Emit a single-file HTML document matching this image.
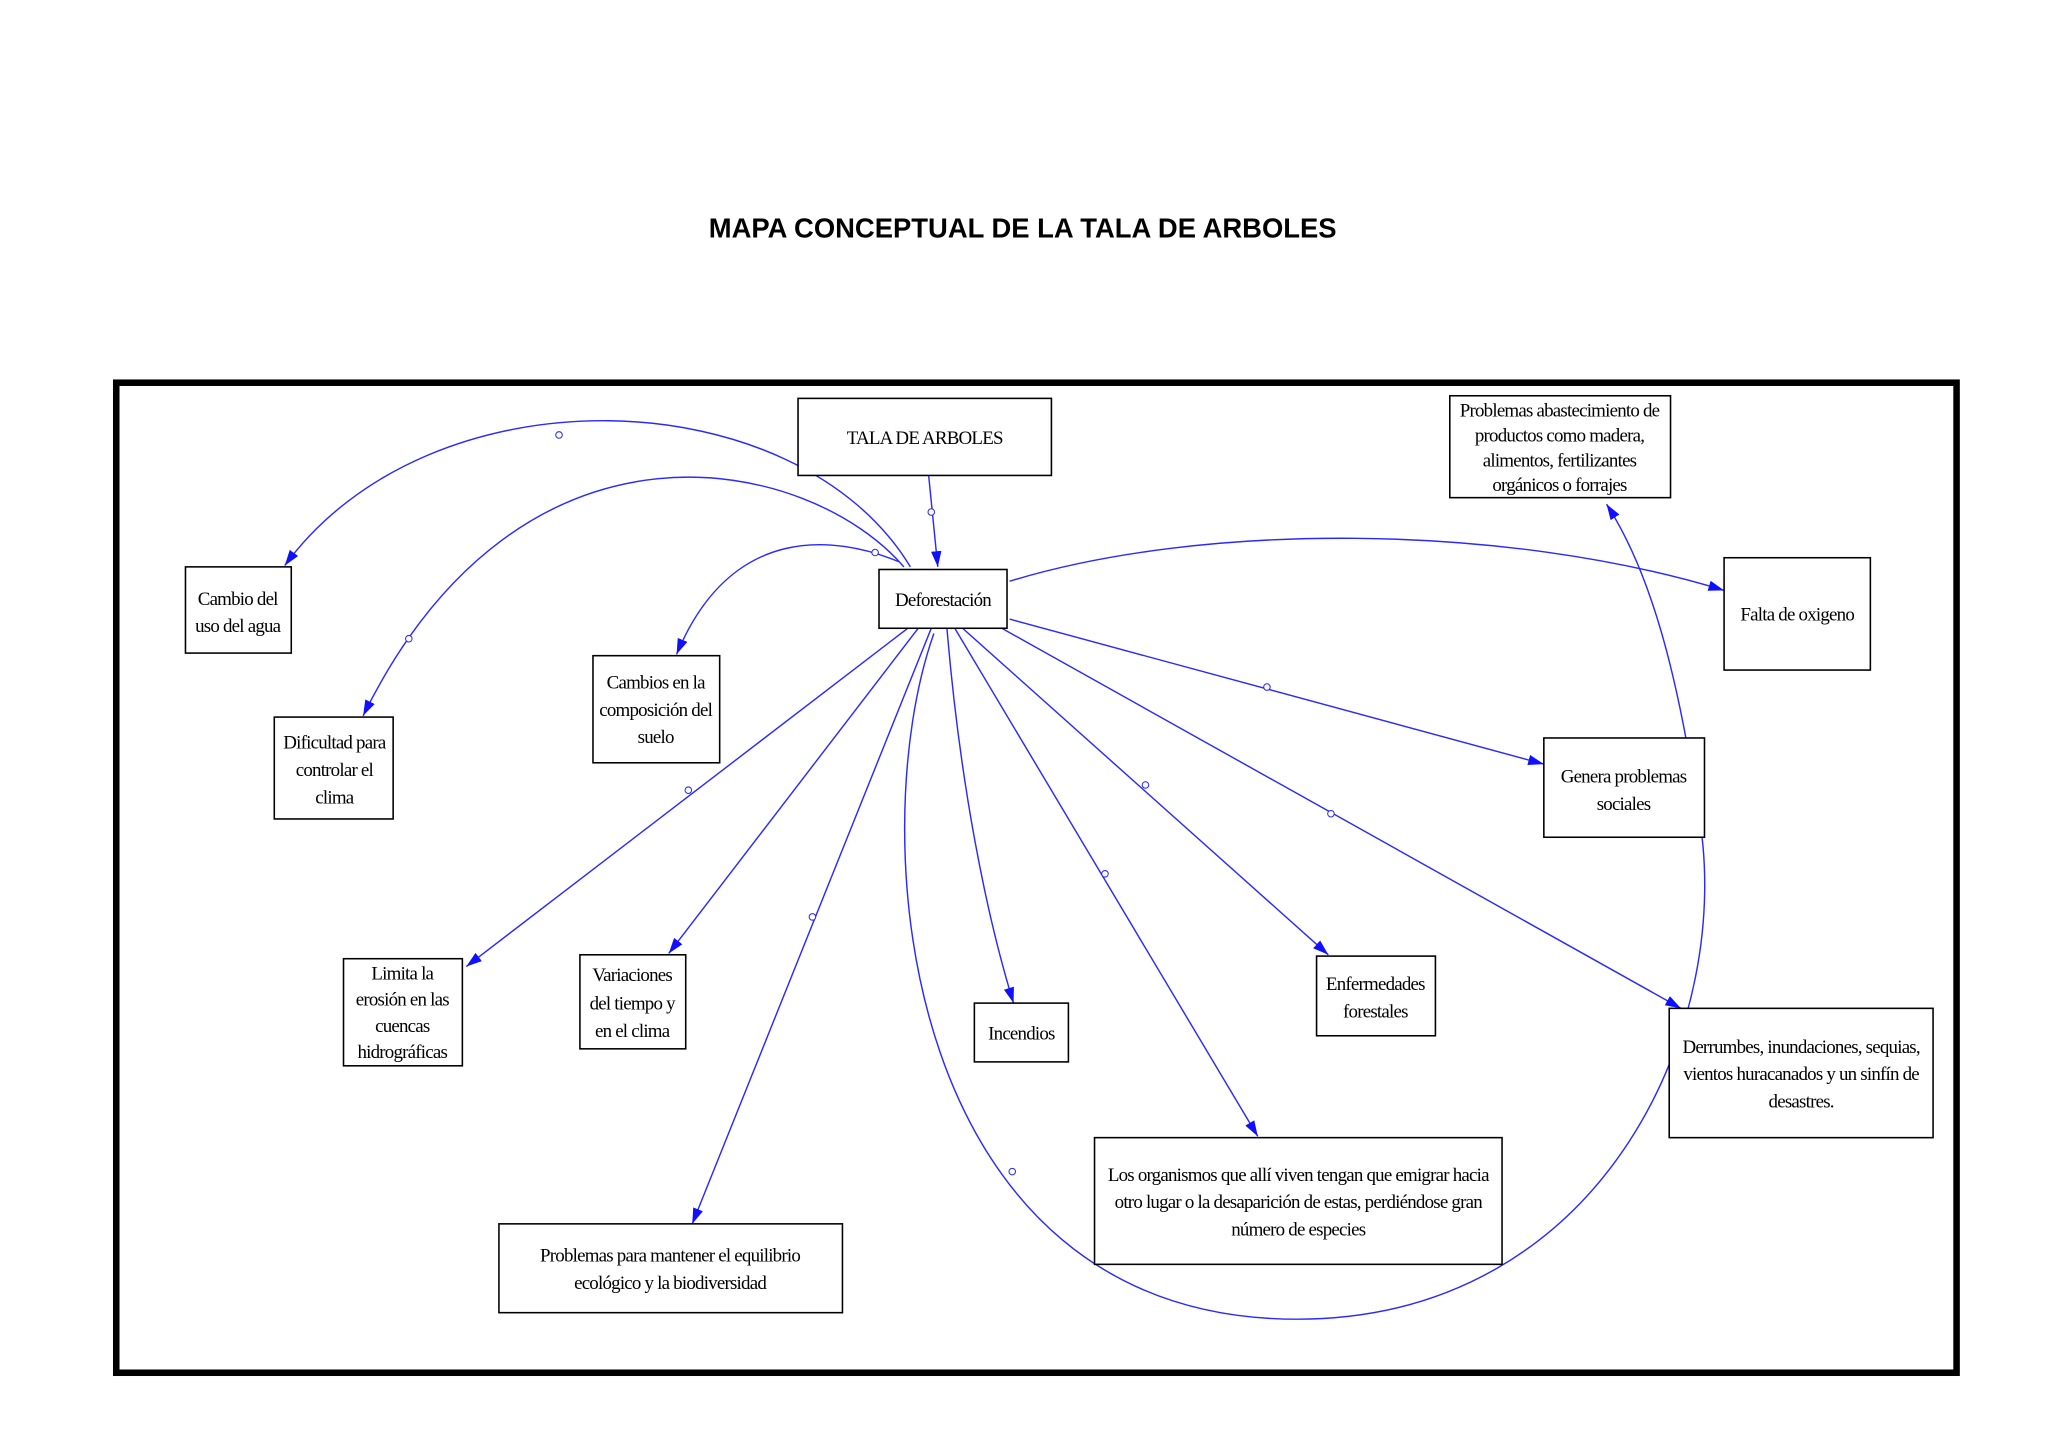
<!DOCTYPE html>
<html><head><meta charset="utf-8"><style>
html,body{margin:0;padding:0;background:#fff;}
svg{display:block;}
.b{fill:#fff;stroke:#000;stroke-width:1.2;}
.t{font-family:"Liberation Serif",serif;font-size:14.5px;text-anchor:middle;fill:#000;letter-spacing:-0.6px;}
.c{fill:none;stroke:#2a2aff;stroke-width:1.1;}
.d{fill:#fff;stroke:#2a2aff;stroke-width:0.8;}
</style></head><body>
<svg width="2048" height="1448" viewBox="0 0 1568 1108.6" xmlns="http://www.w3.org/2000/svg">
<defs>
<marker id="a" viewBox="0 0 12 8" refX="12" refY="4" markerWidth="12" markerHeight="8" markerUnits="userSpaceOnUse" orient="auto">
<path d="M0,0 L12,4 L0,8 z" fill="#1010ff"/></marker>
</defs>
<text x="783" y="182" font-family="'Liberation Sans',sans-serif" font-weight="bold" font-size="21" text-anchor="middle">MAPA CONCEPTUAL DE LA TALA DE ARBOLES</text>
<rect x="89" y="293" width="1409" height="758" fill="#fff" stroke="#000" stroke-width="5"/>

<!-- connectors -->
<path class="c" d="M711,364 L718,434" marker-end="url(#a)"/>
<path class="c" d="M697,434 C610,290 330,280 218,433" marker-end="url(#a)"/>
<path class="c" d="M692,434 C620,350 400,300 278,548" marker-end="url(#a)"/>
<path class="c" d="M688,430 C640,410 560,400 518,501" marker-end="url(#a)"/>
<path class="c" d="M773,445 C920,400 1150,400 1320,452" marker-end="url(#a)"/>
<path class="c" d="M773,474 L1182,585" marker-end="url(#a)"/>
<path class="c" d="M767,481 L1287,772" marker-end="url(#a)"/>
<path class="c" d="M737,481 L1017,731" marker-end="url(#a)"/>
<path class="c" d="M731,481 L963,870" marker-end="url(#a)"/>
<path class="c" d="M725,481 C735,600 755,700 776,768" marker-end="url(#a)"/>
<path class="c" d="M713,481 L530,937" marker-end="url(#a)"/>
<path class="c" d="M703,481 L512,730" marker-end="url(#a)"/>
<path class="c" d="M695,481 L357,740" marker-end="url(#a)"/>
<path class="c" d="M715,485 C660,640 690,1010 993,1010 C1230,1010 1330,780 1300,620 C1285,520 1265,440 1230,386" marker-end="url(#a)"/>

<!-- diamonds -->
<g>
<circle class="d" cx="428" cy="333" r="2.5"/><circle class="d" cx="313" cy="489" r="2.5"/>
<circle class="d" cx="670" cy="423" r="2.5"/><circle class="d" cx="713" cy="392" r="2.5"/>
<circle class="d" cx="970" cy="526" r="2.5"/><circle class="d" cx="1019" cy="623" r="2.5"/>
<circle class="d" cx="877" cy="601" r="2.5"/><circle class="d" cx="846" cy="669" r="2.5"/>
<circle class="d" cx="622" cy="702" r="2.5"/><circle class="d" cx="527" cy="605" r="2.5"/>
<circle class="d" cx="775" cy="897" r="2.5"/><circle class="d" cx="757" cy="449" r="2.5"/>
<circle class="d" cx="703" cy="478" r="2.5"/><circle class="d" cx="724" cy="478" r="2.5"/>
</g>

<!-- boxes -->
<rect class="b" x="611" y="305" width="194" height="59"/>
<text class="t" x="708" y="340" font-size="16">TALA DE ARBOLES</text>
<rect class="b" x="673" y="436" width="98" height="45"/>
<text class="t" x="722" y="464" font-size="15.5">Deforestación</text>
<rect class="b" x="142" y="434" width="81" height="66"/>
<text class="t" x="182" y="463">Cambio del</text><text class="t" x="182" y="484">uso del agua</text>
<rect class="b" x="210" y="549" width="91" height="78"/>
<text class="t" x="256" y="573">Dificultad para</text><text class="t" x="256" y="594">controlar el</text><text class="t" x="256" y="615">clima</text>
<rect class="b" x="454" y="502" width="97" height="82"/>
<text class="t" x="502" y="527">Cambios en la</text><text class="t" x="502" y="548">composición del</text><text class="t" x="502" y="569">suelo</text>
<rect class="b" x="1110" y="303" width="169" height="78"/>
<text class="t" x="1194" y="319">Problemas abastecimiento de</text><text class="t" x="1194" y="338">productos como madera,</text><text class="t" x="1194" y="357">alimentos, fertilizantes</text><text class="t" x="1194" y="376">orgánicos o forrajes</text>
<rect class="b" x="1320" y="427" width="112" height="86"/>
<text class="t" x="1376" y="475">Falta de oxigeno</text>
<rect class="b" x="1182" y="565" width="123" height="76"/>
<text class="t" x="1243" y="599">Genera problemas</text><text class="t" x="1243" y="620">sociales</text>
<rect class="b" x="263" y="734" width="91" height="82"/>
<text class="t" x="308" y="750">Limita la</text><text class="t" x="308" y="770">erosión en las</text><text class="t" x="308" y="790">cuencas</text><text class="t" x="308" y="810">hidrográficas</text>
<rect class="b" x="444" y="731" width="81" height="72"/>
<text class="t" x="484" y="751">Variaciones</text><text class="t" x="484" y="773">del tiempo y</text><text class="t" x="484" y="794">en el clima</text>
<rect class="b" x="746" y="768" width="72" height="45"/>
<text class="t" x="782" y="796">Incendios</text>
<rect class="b" x="1008" y="732" width="91" height="61"/>
<text class="t" x="1053" y="758">Enfermedades</text><text class="t" x="1053" y="779">forestales</text>
<rect class="b" x="1278" y="772" width="202" height="99"/>
<text class="t" x="1379" y="806">Derrumbes, inundaciones, sequias,</text><text class="t" x="1379" y="827">vientos huracanados y un sinfín de</text><text class="t" x="1379" y="848">desastres.</text>
<rect class="b" x="838" y="871" width="312" height="97"/>
<text class="t" x="994" y="904">Los organismos que allí viven tengan que emigrar hacia</text><text class="t" x="994" y="925">otro lugar o la desaparición de estas, perdiéndose gran</text><text class="t" x="994" y="946">número de especies</text>
<rect class="b" x="382" y="937" width="263" height="68"/>
<text class="t" x="513" y="966">Problemas para mantener el equilibrio</text><text class="t" x="513" y="987">ecológico y la biodiversidad</text>
</svg>
</body></html>
